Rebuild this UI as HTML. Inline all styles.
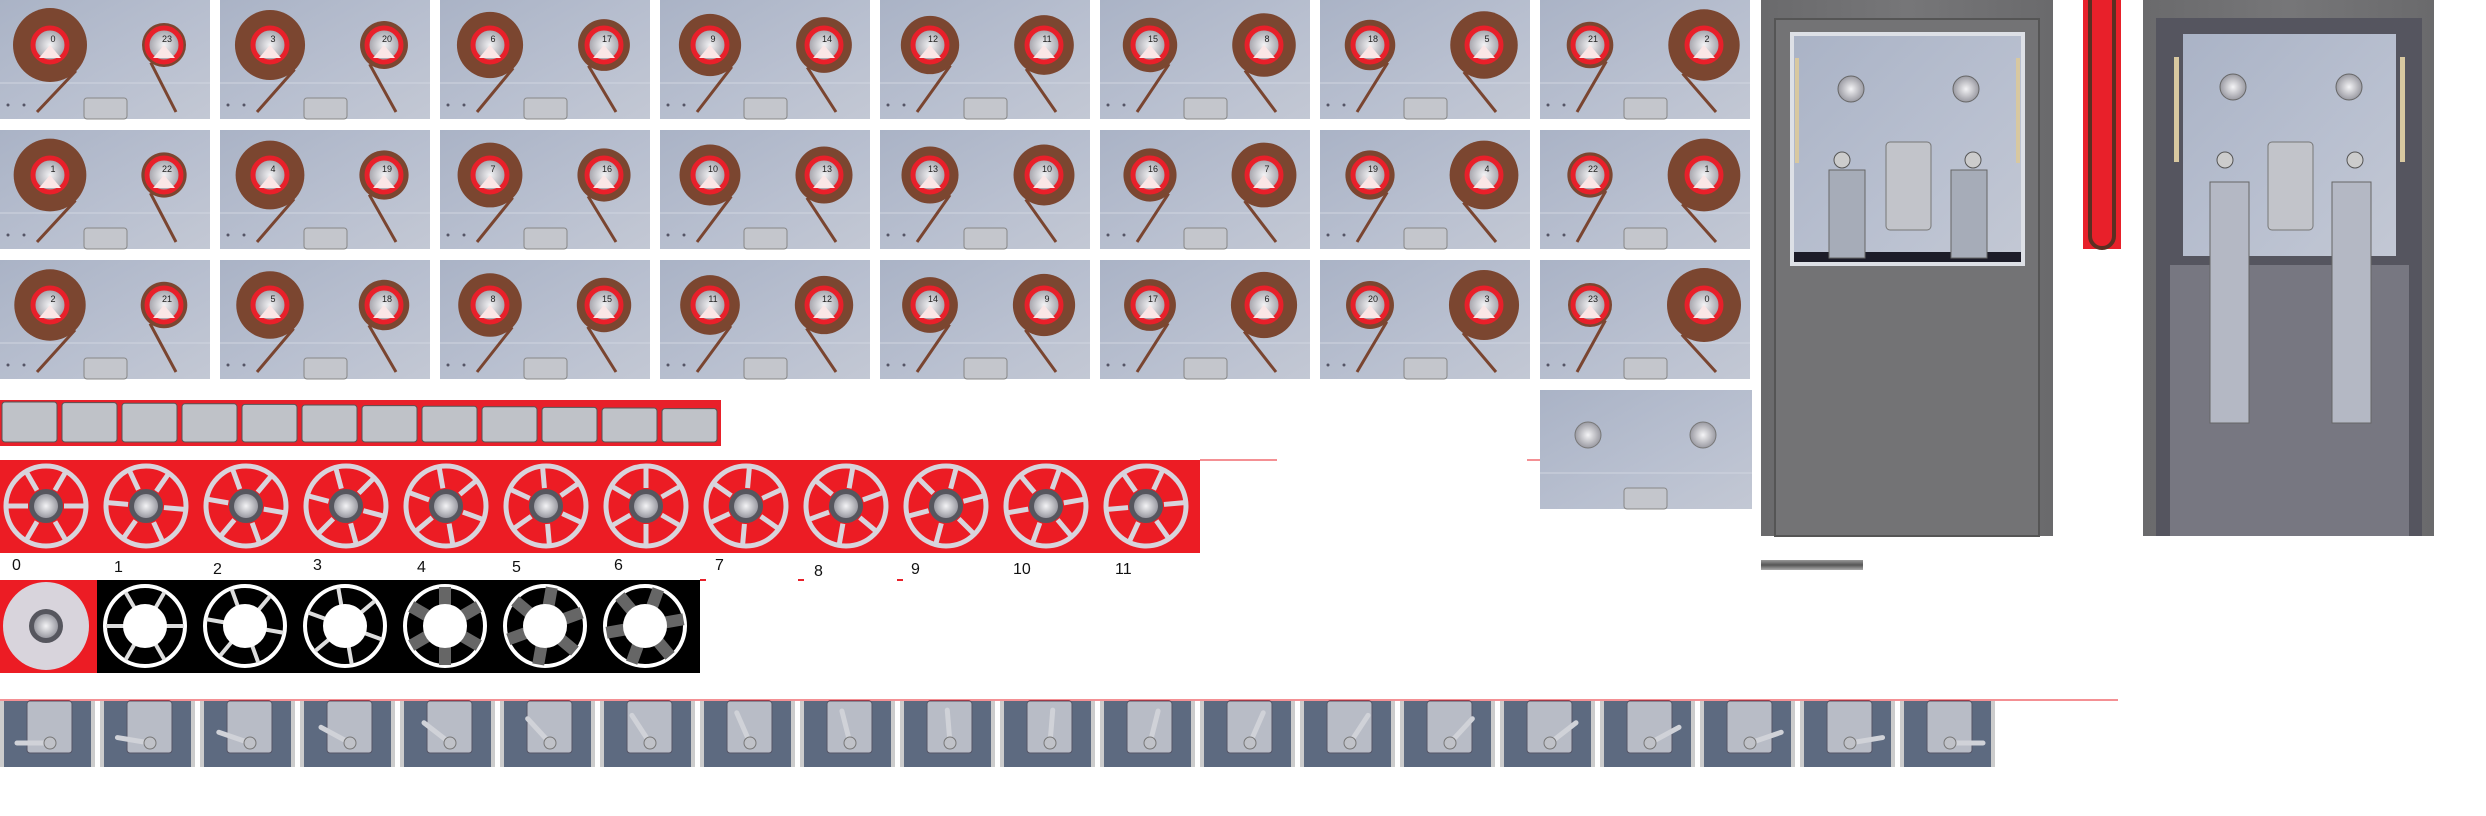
<!DOCTYPE html>
<html><head><meta charset="utf-8"><style>
html,body{margin:0;padding:0;background:#fff;}
svg{display:block;font-family:"Liberation Sans",sans-serif;}
</style></head><body>
<svg id="s" width="2486" height="816" viewBox="0 0 2486 816" xmlns="http://www.w3.org/2000/svg">
<defs>
<linearGradient id="bg" x1="0" y1="0" x2="1" y2="1"><stop offset="0" stop-color="#aab3c6"/><stop offset="0.6" stop-color="#b9c0d0"/><stop offset="1" stop-color="#c3c8d4"/></linearGradient>
<radialGradient id="hub"><stop offset="0" stop-color="#f4f4f6"/><stop offset="1" stop-color="#9a9aa2"/></radialGradient>
<linearGradient id="cab" x1="0" y1="0" x2="1" y2="0"><stop offset="0" stop-color="#6a6a6c"/><stop offset="0.5" stop-color="#767678"/><stop offset="1" stop-color="#6a6a6c"/></linearGradient>
<linearGradient id="bar" x1="0" y1="0" x2="0" y2="1"><stop offset="0" stop-color="#999"/><stop offset="0.5" stop-color="#555"/><stop offset="1" stop-color="#aaa"/></linearGradient>
</defs>
<g id="tiles"></g>
<g id="buttons"></g>
<g id="reels"></g>
<g id="discs"></g>
<g id="knobs"></g>

<!-- extra tile -->
<g transform="translate(1540,390)">
<rect width="212" height="119" fill="url(#bg)"/><line x1="0" y1="83" x2="212" y2="83" stroke="#d0d5e0"/>
<circle cx="48" cy="45" r="13" fill="url(#hub)" stroke="#777"/><circle cx="163" cy="45" r="13" fill="url(#hub)" stroke="#777"/>
<rect x="84" y="98" width="43" height="21" rx="3" fill="#c4c6cc" stroke="#888"/>
</g>
<line x1="1527" y1="460" x2="1540" y2="460" stroke="#e8202a"/>

<!-- cabinet 1 -->
<g>
<rect x="1761" y="0" width="292" height="536" fill="url(#cab)"/>
<rect x="1775" y="19" width="264" height="517" fill="#737375" stroke="#555" stroke-width="2"/>
<rect x="1790" y="32" width="235" height="234" fill="#dde0e6"/>
<rect x="1794" y="36" width="227" height="226" fill="url(#bg)"/>
<rect x="1794" y="252" width="227" height="10" fill="#1c1c28"/>
<rect x="1795" y="58" width="4" height="105" fill="#d8c8a0"/><rect x="2016" y="58" width="4" height="105" fill="#d8c8a0"/>
<circle cx="1851" cy="89" r="13" fill="url(#hub)" stroke="#666"/><circle cx="1966" cy="89" r="13" fill="url(#hub)" stroke="#666"/>
<rect x="1886" y="142" width="45" height="88" rx="4" fill="#c2c4ca" stroke="#777"/>
<rect x="1829" y="170" width="36" height="88" fill="#a6acb8" stroke="#666"/><rect x="1951" y="170" width="36" height="88" fill="#a6acb8" stroke="#666"/>
<circle cx="1842" cy="160" r="8" fill="#ccc" stroke="#555"/><circle cx="1973" cy="160" r="8" fill="#ccc" stroke="#555"/>
</g>
<rect x="2083" y="0" width="38" height="249" fill="#e8202a"/>
<path d="M2090 0 V236 a12 12 0 0 0 24 0 V0" fill="none" stroke="#5a2f22" stroke-width="4"/>
<rect x="1761" y="560" width="102" height="10" fill="url(#bar)"/>

<!-- cabinet 2 -->
<g>
<rect x="2143" y="0" width="291" height="536" fill="url(#cab)"/>
<rect x="2156" y="18" width="266" height="518" fill="#55555f"/>
<rect x="2170" y="265" width="239" height="271" fill="#777781"/>
<rect x="2183" y="34" width="213" height="222" fill="url(#bg)"/>
<rect x="2174" y="57" width="5" height="105" fill="#d8c8a0"/><rect x="2400" y="57" width="5" height="105" fill="#d8c8a0"/>
<circle cx="2233" cy="87" r="13" fill="url(#hub)" stroke="#666"/><circle cx="2349" cy="87" r="13" fill="url(#hub)" stroke="#666"/>
<rect x="2268" y="142" width="45" height="88" rx="4" fill="#c2c4ca" stroke="#777"/>
<rect x="2210" y="182" width="39" height="241" fill="#b4b8c4" stroke="#666"/><rect x="2332" y="182" width="39" height="241" fill="#b4b8c4" stroke="#666"/>
<circle cx="2225" cy="160" r="8" fill="#ccc" stroke="#555"/><circle cx="2355" cy="160" r="8" fill="#ccc" stroke="#555"/>
</g>

<line x1="1200" y1="460" x2="1277" y2="460" stroke="#e8202a"/>
<line x1="0" y1="700" x2="2118" y2="700" stroke="#e8202a"/>
<rect x="700" y="579" width="6" height="2" fill="#e8202a"/>
<rect x="798" y="579" width="6" height="2" fill="#e8202a"/>
<rect x="897" y="579" width="6" height="2" fill="#e8202a"/>
</svg>
<script>
var NS="http://www.w3.org/2000/svg";
function mk(p,t,a){var e=document.createElementNS(NS,t);for(var k in a)e.setAttribute(k,a[k]);p.appendChild(e);return e;}
var tiles=document.getElementById('tiles');
for(var c=0;c<8;c++)for(var r=0;r<3;r++){
 var f=c*3+r, g=mk(tiles,'g',{transform:'translate('+(c*220)+','+(r*130)+')'});
 
 
 mk(g,'rect',{width:210,height:119,fill:'url(#bg)'});
 mk(g,'line',{x1:0,y1:83,x2:210,y2:83,stroke:'#d0d5e0'});
 mk(g,'rect',{x:84,y:98,width:43,height:21,rx:3,fill:'#c4c6cc',stroke:'#888'});
 var L=37-15*f/23, R=22+15*f/23, lx=50,rx=164,cy=45;
 mk(g,'line',{x1:lx+L*0.7,y1:cy+L*0.7,x2:37,y2:112,stroke:'#7a4530','stroke-width':3});
 mk(g,'line',{x1:rx-R*0.6,y1:cy+R*0.8,x2:176,y2:112,stroke:'#7a4530','stroke-width':3});
 mk(g,'circle',{cx:lx,cy:cy,r:L,fill:'#7b4630'});
 mk(g,'circle',{cx:rx,cy:cy,r:R,fill:'#7b4630'});
 [lx,rx].forEach(function(x,i){
  mk(g,'circle',{cx:x,cy:cy,r:17,fill:'url(#hub)',stroke:'#e8202a','stroke-width':5});
  mk(g,'path',{d:'M'+x+' '+cy+' L'+(x-11)+' '+(cy+13)+' L'+(x+11)+' '+(cy+13)+'Z',fill:'#fbe6e6'});
  var t=mk(g,'text',{x:x+3,y:cy-3,'font-size':9,'text-anchor':'middle',fill:'#222'});t.textContent=i?String(23-f):String(f);
 });
 mk(g,'circle',{cx:8,cy:105,r:1.5,fill:'#556'});mk(g,'circle',{cx:24,cy:105,r:1.5,fill:'#556'});
}
var bs=document.getElementById('buttons');
mk(bs,'rect',{x:0,y:400,width:721,height:46,fill:'#e8202a'});
for(var i=0;i<12;i++){var b=mk(bs,'rect',{x:i*60+2,y:402+i*0.6,width:55,height:40-i*0.6,rx:3,fill:'#bfc2c8',stroke:'#555'});
 
 }
var rs=document.getElementById('reels');
mk(rs,'rect',{x:0,y:460,width:1200,height:93,fill:'#ec1c24'});
var nums=['0','1','2','3','4','5','6','7','8','9','10','11'], nx=[12,114,213,313,417,512,614,715,814,911,1013,1115], ny=[570,572,574,570,572,572,570,570,576,574,574,574];
for(var i=0;i<12;i++){var cx=46+i*100,cy=506,g=mk(rs,'g',{});
 
 
 mk(g,'circle',{cx:cx,cy:cy,r:40,fill:'none',stroke:'#d8d4dc','stroke-width':5});
 for(var k=0;k<6;k++){var a=(k*60+i*5)*Math.PI/180;mk(g,'line',{x1:cx+18*Math.cos(a),y1:cy+18*Math.sin(a),x2:cx+40*Math.cos(a),y2:cy+40*Math.sin(a),stroke:'#d8d4dc','stroke-width':5});}
 mk(g,'circle',{cx:cx,cy:cy,r:17,fill:'#56565e'});mk(g,'circle',{cx:cx,cy:cy,r:12,fill:'url(#hub)'});
 var t=mk(rs,'text',{x:nx[i],y:ny[i],'font-size':16,fill:'#111'});t.textContent=nums[i];
 
 }
var ds=document.getElementById('discs');
mk(ds,'rect',{x:0,y:580,width:97,height:93,fill:'#ec1c24'});
mk(ds,'rect',{x:97,y:580,width:603,height:93,fill:'#000'});
mk(ds,'ellipse',{cx:46,cy:626,rx:43,ry:44,fill:'#d8d4dc'});
mk(ds,'circle',{cx:46,cy:626,r:17,fill:'#56565e'});mk(ds,'circle',{cx:46,cy:626,r:12,fill:'url(#hub)'});
for(var i=0;i<6;i++){var cx=145+i*100,cy=626,g=mk(ds,'g',{});
 
 
 mk(g,'circle',{cx:cx,cy:cy,r:40,fill:'none',stroke:'#fff','stroke-width':4});
 for(var k=0;k<6;k++){var a=(k*60+i*10)*Math.PI/180;mk(g,'line',{x1:cx,y1:cy,x2:cx+39*Math.cos(a),y2:cy+39*Math.sin(a),stroke:i<3?'#ddd':'#666','stroke-width':i<3?4:12});}
 mk(g,'circle',{cx:cx,cy:cy,r:22,fill:'#fff'});}
var ks=document.getElementById('knobs');
for(var i=0;i<20;i++){var x=i*100,g=mk(ks,'g',{transform:'translate('+x+',701)'});
 
 
 mk(g,'rect',{width:95,height:66,fill:'#5d6a80'});
 mk(g,'rect',{width:4,height:66,fill:'#ccc'});mk(g,'rect',{x:91,width:4,height:66,fill:'#ccc'});
 mk(g,'rect',{x:27,y:0,width:45,height:52,rx:3,fill:'#b8bcc6',stroke:'#556'});
 var a=(180-i*180/19)*Math.PI/180;
 mk(g,'line',{x1:50,y1:42,x2:50+33*Math.cos(a),y2:42-33*Math.sin(a),stroke:'#d0d2d8','stroke-width':5,'stroke-linecap':'round'});
 mk(g,'circle',{cx:50,cy:42,r:6,fill:'#c0c2c8',stroke:'#777'});}
</script>
</body></html>
